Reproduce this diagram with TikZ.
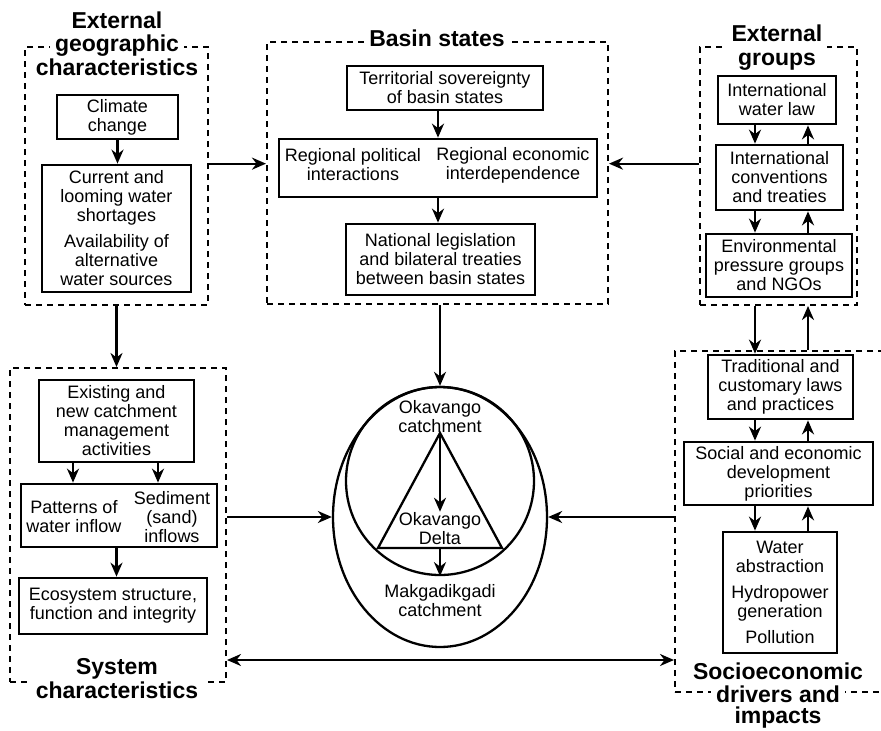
\documentclass[tikz,border=0pt]{standalone}
\usepackage{fontspec}
\setmainfont{Liberation Sans}
\usetikzlibrary{arrows.meta,shapes.geometric}

\begin{document}
\begin{tikzpicture}[x=1pt, y=-1pt, line width=2.3pt,
    >={Stealth[length=14pt, width=12pt, inset=4.5pt]},
    box/.style={draw, line width=2.7pt, inner sep=0pt, align=center, font=\fontsize{18}{19}\selectfont},
    txt/.style={inner sep=0pt, align=center, font=\fontsize{18}{19}\selectfont},
    group/.style={draw, line width=2pt, dash pattern=on 6pt off 5pt, inner sep=0pt},
    heading/.style={fill=white, inner xsep=5pt, inner ysep=0.5pt, align=center, font=\bfseries\fontsize{23}{24}\selectfont}]

    \useasboundingbox (0,0) rectangle (881,731);

    % lanes for the paired arrows
    \coordinate (dnx) at (755,0);
    \coordinate (upx) at (808,0);
    \coordinate (lowline) at (440,660);

    % external geographic characteristics
    \node[group, minimum width=183pt, minimum height=258pt] (geo) at (116.5,176) {};
    \node[heading] (geot1) at (117,20) {External};
    \node[heading] (geot2) at (117,45.5) {geographic};
    \node[heading] (geot3) at (117,67) {characteristics};
    \node[box, minimum width=121pt, minimum height=44pt] (climate) at (117.5,117) {Climate\\change};
    \node[box, minimum width=149pt, minimum height=127pt] (current) at (116.5,228.5)
        {Current and\\looming water\\shortages\\[7pt]Availability of\\alternative\\water sources};
    \draw[->] (climate) -- (climate |- current.north);

    % basin states
    \node[group, minimum width=341pt, minimum height=262pt] (basin) at (437.5,173) {};
    \node[heading] (basint) at (437,38) {Basin states};
    \node[box, minimum width=196pt, minimum height=44pt] (terr) at (445,88) {Territorial sovereignty\\of basin states};
    \node[box, minimum width=318pt, minimum height=58pt] (reg) at (438,168) {};
    \node[txt] (regpol) at (353,165) {Regional political\\interactions};
    \node[txt] (regecon) at (513,165) {Regional economic\\interdependence};
    \node[box, minimum width=189pt, minimum height=71pt] (natl) at (440.5,259.5)
        {National legislation\\and bilateral treaties\\between basin states};
    \draw[->] (reg.north |- terr.south) -- (reg.north);
    \draw[->] (reg.south) -- (reg.south |- natl.north);

    % external groups
    \node[group, minimum width=157pt, minimum height=258pt] (ext) at (778.5,176) {};
    \node[heading] (extt) at (777,48) {External\\groups};
    \node[box, minimum width=118pt, minimum height=48pt] (law) at (777,100) {International\\water law};
    \node[box, minimum width=127pt, minimum height=65pt] (conv) at (779.5,177.5)
        {International\\conventions\\and treaties};
    \node[box, minimum width=146pt, minimum height=63pt] (env) at (779,265.5)
        {Environmental\\pressure groups\\and NGOs};
    \draw[->] (law.south -| dnx) -- (conv.north -| dnx);
    \draw[->] (conv.north -| upx) -- (law.south -| upx);
    \draw[->] (conv.south -| dnx) -- (env.north -| dnx);
    \draw[->] (env.north -| upx) -- (conv.south -| upx);

    % system characteristics
    \node[group, minimum width=216pt, minimum height=314pt] (sys) at (118,525) {};
    \node[heading] (syst) at (117,679) {System\\characteristics};
    \node[box, minimum width=155pt, minimum height=82pt] (exist) at (116.5,421)
        {Existing and\\new catchment\\management\\activities};
    \node[box, minimum width=196pt, minimum height=63pt] (flow) at (119,515.5) {};
    \node[txt] (pattern) at (74,517) {Patterns of\\water inflow};
    \node[txt] (sediment) at (172,517) {Sediment\\(sand)\\inflows};
    \node[box, minimum width=188pt, minimum height=56pt] (eco) at (113,606)
        {Ecosystem structure,\\function and integrity};
    \coordinate (leftx) at (73,0);
    \coordinate (rightx) at (158,0);
    \draw[->] (exist.south -| leftx) -- (flow.north -| leftx);
    \draw[->] (exist.south -| rightx) -- (flow.north -| rightx);
    \draw[->] (flow.south -| exist) -- (eco.north -| exist);

    % socioeconomic drivers and impacts
    \node[group, minimum width=220pt, minimum height=341pt] (socio) at (785,521.5) {};
    \node[heading] (sociot1) at (778,671) {Socioeconomic};
    \node[heading] (sociot2) at (778,694.5) {drivers and};
    \node[heading] (sociot3) at (778,718) {impacts};
    \node[box, minimum width=145pt, minimum height=64pt] (trad) at (780.5,387)
        {Traditional and\\customary laws\\and practices};
    \node[box, minimum width=189pt, minimum height=63pt] (social) at (778.5,473.5)
        {Social and economic\\development\\priorities};
    \node[box, minimum width=114pt, minimum height=121pt] (water) at (780,592.5)
        {Water\\abstraction\\[7pt]Hydropower\\generation\\[7pt]Pollution};
    \draw[->] (trad.south -| dnx) -- (social.north -| dnx);
    \draw[->] (social.north -| upx) -- (trad.south -| upx);
    \draw[->] (social.south -| dnx) -- (water.north -| dnx);
    \draw[->] (water.north -| upx) -- (social.south -| upx);

    % Okavango system
    \node[draw, ellipse, minimum width=214pt, minimum height=260pt, inner sep=0pt] (mak) at (440,517) {};
    \node[draw, circle, minimum size=188pt, inner sep=0pt] (oka) at (440,481) {};
    \coordinate (apex) at (440,433);
    \coordinate (baseleft) at (378,548);
    \coordinate (baseright) at (502,548);
    \draw[line join=miter] (apex) -- (baseleft) -- (baseright) -- cycle;
    \node[txt] (okacatch) at (440,416.5) {Okavango\\catchment};
    \node[txt] (delta) at (440,529) {Okavango\\Delta};
    \node[txt] (makcatch) at (440,601) {Makgadikgadi\\catchment};
    \draw[->] (apex) -- (delta.north);
    \draw[->] (delta |- baseleft) -- (oka.south);

    % links between the groups
    \draw[->] (geo.east |- current.north) -- (basin.west |- current.north);
    \draw[->] (ext.west |- current.north) -- (basin.east |- current.north);
    \draw[->] (oka.north |- basin.south) -- (oka.north);
    \draw[->] (geo.south) -- (geo.south |- sys.north);
    \draw[->] (ext.south -| dnx) -- (trad.north -| dnx);
    \draw[->] (socio.north -| upx) -- (ext.south -| upx);
    \draw[->] (sys.east |- mak.west) -- (mak.west);
    \draw[->] (socio.west |- mak.east) -- (mak.east);
    \draw[<->] (sys.east |- lowline) -- (socio.west |- lowline);

\end{tikzpicture}
\end{document}
